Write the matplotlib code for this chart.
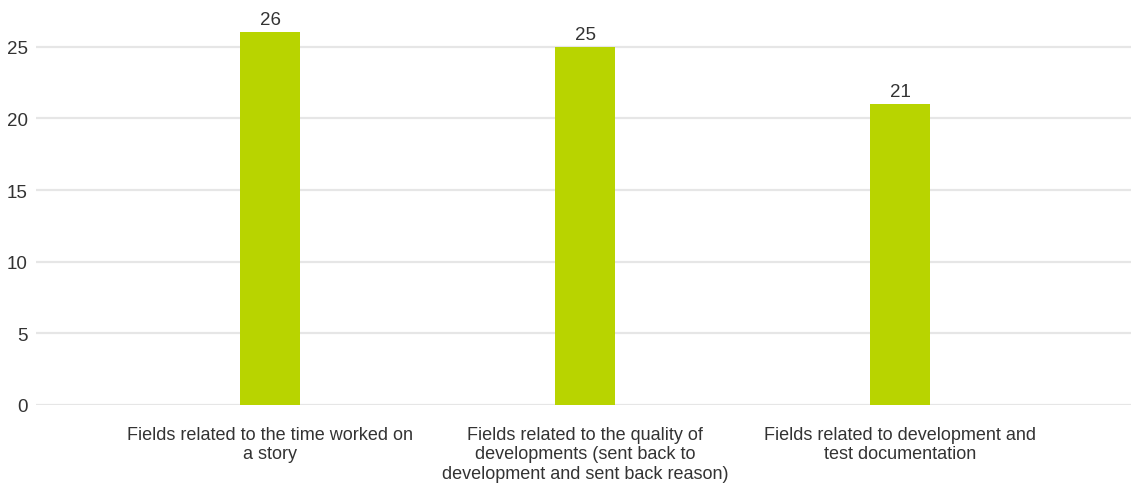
import matplotlib.pyplot as plt

categories = [
    "Fields related to the time worked on\na story",
    "Fields related to the quality of\ndevelopments (sent back to\ndevelopment and sent back reason)",
    "Fields related to development and\ntest documentation",
]
counts = [26, 25, 21]
yticks = [0, 5, 10, 15, 20, 25]

plt.rcParams['font.family'] = ['Liberation Sans', 'DejaVu Sans']

fig = plt.figure(figsize=(11.31, 4.85), dpi=100)
ax = fig.add_axes([0.032, 0.163, 0.968, 0.827])

x = list(range(len(categories)))
bars = ax.bar(x, counts, width=0.19, color="#b8d400", zorder=3)
for b, v in zip(bars, counts):
    ax.text(b.get_x() + b.get_width() / 2, v + 0.3, str(v),
            ha="center", va="bottom", fontsize=13.5, color="#333333")

ax.set_xlim(-0.743, 2.733)
ax.set_ylim(0, 28)
ax.set_yticks(yticks)
ax.set_xticks(x)
ax.set_xticklabels(categories, fontsize=13, color="#333333", linespacing=1.2)
ax.tick_params(axis="y", labelsize=13.5, labelcolor="#333333", length=0, pad=6)
ax.tick_params(axis="x", length=0, pad=15)
ax.grid(axis="y", color="#e6e6e6", linewidth=1.6, zorder=0)
for s in ax.spines.values():
    s.set_visible(False)

fig.savefig("out.png", dpi=100)
